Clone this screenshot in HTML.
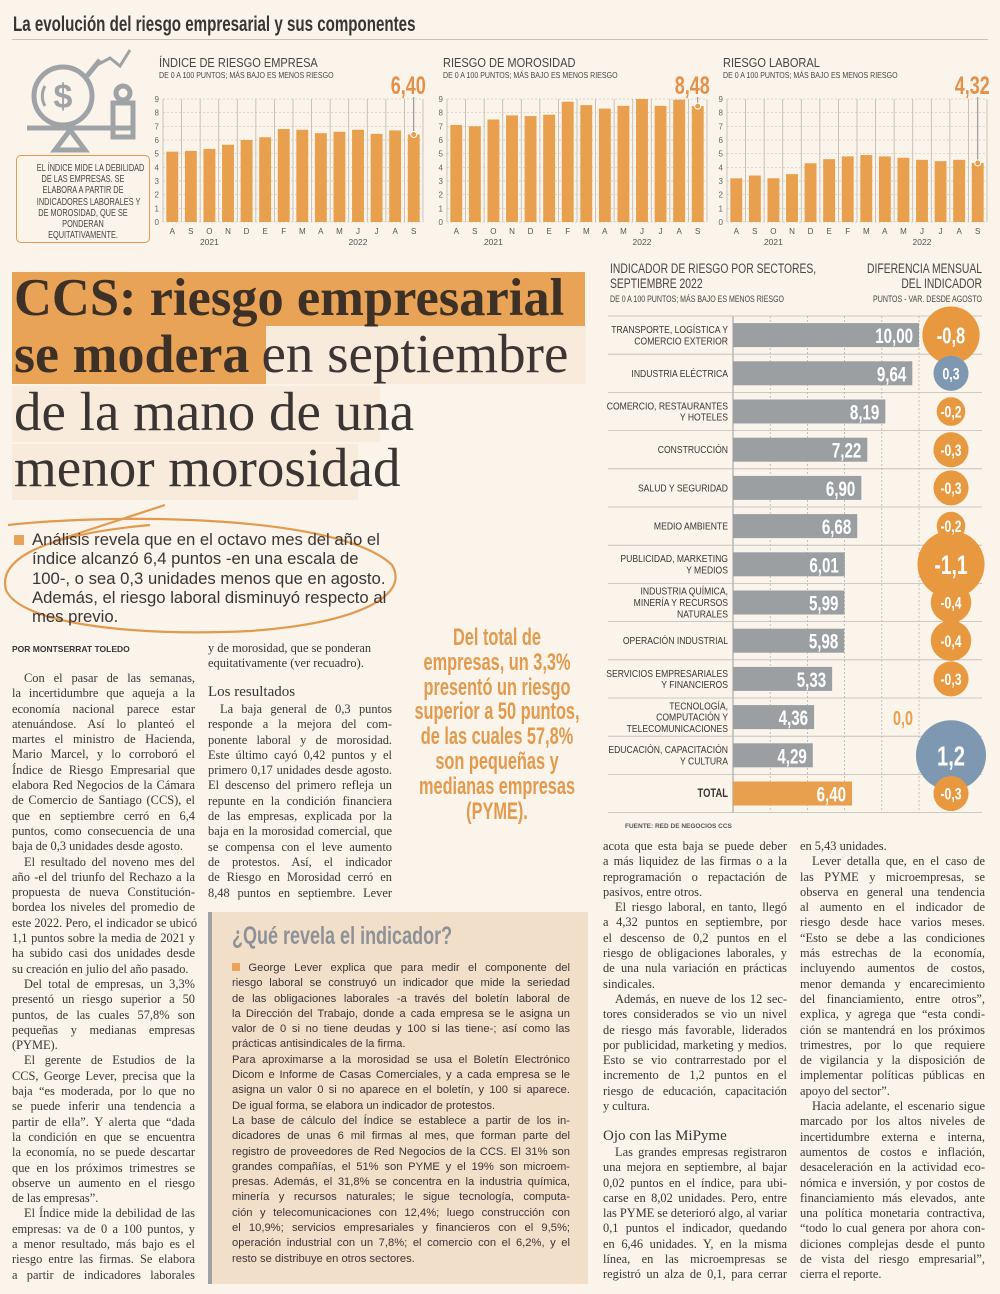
<!DOCTYPE html>
<html><head><meta charset="utf-8">
<style>
body{margin:0;background:#fbf4ea;}
#page{position:relative;width:1000px;height:1294px;overflow:hidden;background:#fbf4ea;font-family:"Liberation Serif",serif;color:#3a3433;}
.abs{position:absolute;}
.col{position:absolute;font-family:"Liberation Serif",serif;font-size:12.4px;line-height:15.3px;color:#3b3535;}
.col div{white-space:nowrap;height:15.3px;}
.l{text-align:justify;text-align-last:justify;}
.i{padding-left:12px;}
.box{position:absolute;font-family:"Liberation Sans",sans-serif;font-size:11.2px;line-height:15.3px;color:#3b3535;}
.box div{white-space:nowrap;height:15.3px;}
.hl{font-family:"Liberation Serif",serif;font-size:55px;line-height:56px;position:absolute;left:14px;white-space:nowrap;}
.pq div{white-space:nowrap;height:24.8px;transform:scaleX(0.68);transform-origin:center;}
.nb div{white-space:nowrap;transform:scaleX(0.7);transform-origin:center;}
</style></head><body>
<div id="page">

<div class="abs" style="left:13px;top:13px;font-family:'Liberation Sans',sans-serif;font-size:21px;font-weight:bold;color:#3a3433;transform:scaleX(0.72);transform-origin:left;white-space:nowrap;">La evolución del riesgo empresarial y sus componentes</div>
<div class="abs" style="left:12px;top:39px;width:976px;height:1px;background:#c9c0b5;"></div>

<svg class="abs" style="left:25px;top:48px" width="120" height="110" viewBox="0 0 120 110">
<g fill="none" stroke="#a0a3a6" stroke-width="5">
<circle cx="38" cy="48" r="29"/>
<path d="M20 38 A20 20 0 0 0 20 58" stroke-width="3"/>
<line x1="62" y1="28" x2="75" y2="12"/>
<polyline points="70,18 85,10 95,18 105,2" stroke-width="3"/>
<circle cx="98" cy="45" r="7"/>
<rect x="88" y="55" width="20" height="34"/>
<line x1="2" y1="80" x2="110" y2="80"/>
<polygon points="45,82 60,102 30,102"/>
</g>
<text x="38" y="60" font-family="Liberation Sans" font-size="34" font-weight="bold" fill="#a0a3a6" text-anchor="middle">$</text>
</svg>
<div class="abs nb" style="left:16px;top:155px;width:134px;height:88px;border:1.5px solid #e29a52;border-radius:5px;font-family:'Liberation Sans',sans-serif;font-size:10.5px;line-height:11.2px;text-align:center;color:#4a4444;padding-top:7px;box-sizing:border-box;">
<div>EL ÍNDICE MIDE LA DEBILIDAD</div><div>DE LAS EMPRESAS. SE</div><div>ELABORA A PARTIR DE</div><div>INDICADORES LABORALES Y</div><div>DE MOROSIDAD, QUE SE</div><div>PONDERAN</div><div>EQUITATIVAMENTE.</div></div>

<svg id="topcharts" class="abs" style="left:0;top:0" width="1000" height="255"></svg>

<!-- Headline -->
<div class="abs" style="left:12px;top:272px;width:573px;height:54px;background:#e8a357;"></div>
<div class="abs" style="left:12px;top:326px;width:254px;height:58px;background:#e8a357;"></div>
<div class="abs" style="left:266px;top:326px;width:320px;height:58px;background:#f8ebdc;"></div>
<div class="abs" style="left:12px;top:386px;width:368px;height:56px;background:#f8ebdc;"></div>
<div class="abs" style="left:12px;top:444px;width:346px;height:56px;background:#f8ebdc;"></div>
<div class="hl" style="top:270px;font-weight:bold;color:#3d3026;font-size:52.5px;">CCS: riesgo empresarial</div>
<div class="hl" style="top:326px;color:#3d3433;"><b style="color:#3d3026;font-size:54px;">se modera</b><span style="padding-left:12px">en septiembre</span></div>
<div class="hl" style="top:384px;">de la mano de una</div>
<div class="hl" style="top:440px;">menor morosidad</div>

<!-- Lead -->
<svg class="abs" style="left:0;top:495px" width="420" height="145">
<path d="M8 30 C120 18 340 20 392 70 C410 100 360 128 250 136 C130 142 20 128 6 95 C-2 65 40 40 150 30" fill="none" stroke="#e29a4e" stroke-width="2.2"/>
<line x1="58" y1="45" x2="165" y2="10" stroke="#e29a4e" stroke-width="2.2"/>
</svg>
<div class="abs" style="left:14px;top:530px;font-family:'Liberation Sans',sans-serif;font-size:16.7px;line-height:19.3px;color:#3b3535;white-space:nowrap;">
<span style="display:inline-block;width:10px;height:10px;background:#e8a357;margin-right:8px;"></span>Análisis revela que en el octavo mes del año el<br><span style="padding-left:18px"></span>índice alcanzó 6,4 puntos -en una escala de<br><span style="padding-left:18px"></span>100-, o sea 0,3 unidades menos que en agosto.<br><span style="padding-left:18px"></span>Además, el riesgo laboral disminuyó respecto al<br><span style="padding-left:18px"></span>mes previo.</div>

<div class="abs" style="left:12px;top:644px;font-family:'Liberation Sans',sans-serif;font-size:8.5px;font-weight:bold;color:#3b3535;">POR MONTSERRAT TOLEDO</div>

<div class="col" style="left:12px;top:671px;width:183px;">
<div class="l i">Con el pasar de las semanas,</div>
<div class="l">la incertidumbre que aqueja a la</div>
<div class="l">economía nacional parece estar</div>
<div class="l">atenuándose. Así lo planteó el</div>
<div class="l">martes el ministro de Hacienda,</div>
<div class="l">Mario Marcel, y lo corroboró el</div>
<div class="l">Índice de Riesgo Empresarial que</div>
<div class="l">elabora Red Negocios de la Cámara</div>
<div class="l">de Comercio de Santiago (CCS), el</div>
<div class="l">que en septiembre cerró en 6,4</div>
<div class="l">puntos, como consecuencia de una</div>
<div>baja de 0,3 unidades desde agosto.</div>
<div class="l i">El resultado del noveno mes del</div>
<div class="l">año -el del triunfo del Rechazo a la</div>
<div class="l">propuesta de nueva Constitución-</div>
<div class="l">bordea los niveles del promedio de</div>
<div class="l">este 2022. Pero, el indicador se ubicó</div>
<div class="l">1,1 puntos sobre la media de 2021 y</div>
<div class="l">ha subido casi dos unidades desde</div>
<div>su creación en julio del año pasado.</div>
<div class="l i">Del total de empresas, un 3,3%</div>
<div class="l">presentó un riesgo superior a 50</div>
<div class="l">puntos, de las cuales 57,8% son</div>
<div class="l">pequeñas y medianas empresas</div>
<div>(PYME).</div>
<div class="l i">El gerente de Estudios de la</div>
<div class="l">CCS, George Lever, precisa que la</div>
<div class="l">baja “es moderada, por lo que no</div>
<div class="l">se puede inferir una tendencia a</div>
<div class="l">partir de ella”. Y alerta que “dada</div>
<div class="l">la condición en que se encuentra</div>
<div class="l">la economía, no se puede descartar</div>
<div class="l">que en los próximos trimestres se</div>
<div class="l">observe un aumento en el riesgo</div>
<div>de las empresas”.</div>
<div class="l i">El Índice mide la debilidad de las</div>
<div class="l">empresas: va de 0 a 100 puntos, y</div>
<div class="l">a menor resultado, más bajo es el</div>
<div class="l">riesgo entre las firmas. Se elabora</div>
<div class="l">a partir de indicadores laborales</div>
</div>

<div class="col" style="left:208px;top:641px;width:184px;">
<div>y de morosidad, que se ponderan</div>
<div>equitativamente (ver recuadro).</div>
</div>
<div class="abs" style="left:208px;top:684px;font-size:15px;color:#3b3535;">Los resultados</div>
<div class="col" style="left:208px;top:702px;width:184px;">
<div class="l i">La baja general de 0,3 puntos</div>
<div class="l">responde a la mejora del com-</div>
<div class="l">ponente laboral y de morosidad.</div>
<div class="l">Este último cayó 0,42 puntos y el</div>
<div class="l">primero 0,17 unidades desde agosto.</div>
<div class="l">El descenso del primero refleja un</div>
<div class="l">repunte en la condición financiera</div>
<div class="l">de las empresas, explicada por la</div>
<div class="l">baja en la morosidad comercial, que</div>
<div class="l">se compensa con el leve aumento</div>
<div class="l">de protestos. Así, el indicador</div>
<div class="l">de Riesgo en Morosidad cerró en</div>
<div class="l">8,48 puntos en septiembre. Lever</div>
</div>

<div class="abs pq" style="left:347px;top:626px;width:300px;text-align:center;font-family:'Liberation Sans',sans-serif;font-size:24px;line-height:24.8px;font-weight:bold;color:#e29a4e;">
<div>Del total de</div><div>empresas, un 3,3%</div><div>presentó un riesgo</div><div>superior a 50 puntos,</div><div>de las cuales 57,8%</div><div>son pequeñas y</div><div>medianas empresas</div><div>(PYME).</div></div>

<!-- Box -->
<div class="abs" style="left:208px;top:912px;width:380px;height:372px;background:#f2dfca;border-left:4px solid #9ea2a6;box-sizing:border-box;"></div>
<div class="abs" style="left:232px;top:922px;font-family:'Liberation Sans',sans-serif;font-size:25px;font-weight:bold;color:#8e9296;transform:scaleX(0.72);transform-origin:left;white-space:nowrap;">¿Qué revela el indicador?</div>
<div class="box" style="left:232px;top:961px;width:338px;">
<div class="l"><span style="display:inline-block;width:8px;height:8px;background:#e8a357;"></span> George Lever explica que para medir el componente del</div>
<div class="l">riesgo laboral se construyó un indicador que mide la seriedad</div>
<div class="l">de las obligaciones laborales -a través del boletín laboral de</div>
<div class="l">la Dirección del Trabajo, donde a cada empresa se le asigna un</div>
<div class="l">valor de 0 si no tiene deudas y 100 si las tiene-; así como las</div>
<div>prácticas antisindicales de la firma.</div>
<div class="l">Para aproximarse a la morosidad se usa el Boletín Electrónico</div>
<div class="l">Dicom e Informe de Casas Comerciales, y a cada empresa se le</div>
<div class="l">asigna un valor 0 si no aparece en el boletín, y 100 si aparece.</div>
<div>De igual forma, se elabora un indicador de protestos.</div>
<div class="l">La base de cálculo del Índice se establece a partir de los in-</div>
<div class="l">dicadores de unas 6 mil firmas al mes, que forman parte del</div>
<div class="l">registro de proveedores de Red Negocios de la CCS. El 31% son</div>
<div class="l">grandes compañías, el 51% son PYME y el 19% son microem-</div>
<div class="l">presas. Además, el 31,8% se concentra en la industria química,</div>
<div class="l">minería y recursos naturales; le sigue tecnología, computa-</div>
<div class="l">ción y telecomunicaciones con 12,4%; luego construcción con</div>
<div class="l">el 10,9%; servicios empresariales y financieros con el 9,5%;</div>
<div class="l">operación industrial con un 7,8%; el comercio con el 6,2%, y el</div>
<div>resto se distribuye en otros sectores.</div>
</div>

<!-- Sector chart -->
<svg id="sector" class="abs" style="left:0;top:0" width="1000" height="840"></svg>

<div class="col" style="left:603px;top:839px;width:184px;">
<div class="l">acota que esta baja se puede deber</div>
<div class="l">a más liquidez de las firmas o a la</div>
<div class="l">reprogramación o repactación de</div>
<div>pasivos, entre otros.</div>
<div class="l i">El riesgo laboral, en tanto, llegó</div>
<div class="l">a 4,32 puntos en septiembre, por</div>
<div class="l">el descenso de 0,2 puntos en el</div>
<div class="l">riesgo de obligaciones laborales, y</div>
<div class="l">de una nula variación en prácticas</div>
<div>sindicales.</div>
<div class="l i">Además, en nueve de los 12 sec-</div>
<div class="l">tores considerados se vio un nivel</div>
<div class="l">de riesgo más favorable, liderados</div>
<div class="l">por publicidad, marketing y medios.</div>
<div class="l">Esto se vio contrarrestado por el</div>
<div class="l">incremento de 1,2 puntos en el</div>
<div class="l">riesgo de educación, capacitación</div>
<div>y cultura.</div>
</div>
<div class="abs" style="left:603px;top:1128px;font-size:15px;color:#3b3535;">Ojo con las MiPyme</div>
<div class="col" style="left:603px;top:1145px;width:184px;">
<div class="l i">Las grandes empresas registraron</div>
<div class="l">una mejora en septiembre, al bajar</div>
<div class="l">0,02 puntos en el índice, para ubi-</div>
<div class="l">carse en 8,02 unidades. Pero, entre</div>
<div class="l">las PYME se deterioró algo, al variar</div>
<div class="l">0,1 puntos el indicador, quedando</div>
<div class="l">en 6,46 unidades. Y, en la misma</div>
<div class="l">línea, en las microempresas se</div>
<div class="l">registró un alza de 0,1, para cerrar</div>
</div>

<div class="col" style="left:800px;top:839px;width:185px;">
<div>en 5,43 unidades.</div>
<div class="l i">Lever detalla que, en el caso de</div>
<div class="l">las PYME y microempresas, se</div>
<div class="l">observa en general una tendencia</div>
<div class="l">al aumento en el indicador de</div>
<div class="l">riesgo desde hace varios meses.</div>
<div class="l">“Esto se debe a las condiciones</div>
<div class="l">más estrechas de la economía,</div>
<div class="l">incluyendo aumentos de costos,</div>
<div class="l">menor demanda y encarecimiento</div>
<div class="l">del financiamiento, entre otros”,</div>
<div class="l">explica, y agrega que “esta condi-</div>
<div class="l">ción se mantendrá en los próximos</div>
<div class="l">trimestres, por lo que requiere</div>
<div class="l">de vigilancia y la disposición de</div>
<div class="l">implementar políticas públicas en</div>
<div>apoyo del sector”.</div>
<div class="l i">Hacia adelante, el escenario sigue</div>
<div class="l">marcado por los altos niveles de</div>
<div class="l">incertidumbre externa e interna,</div>
<div class="l">aumentos de costos e inflación,</div>
<div class="l">desaceleración en la actividad eco-</div>
<div class="l">nómica e inversión, y por costos de</div>
<div class="l">financiamiento más elevados, ante</div>
<div class="l">una política monetaria contractiva,</div>
<div class="l">“todo lo cual genera por ahora con-</div>
<div class="l">diciones complejas desde el punto</div>
<div class="l">de vista del riesgo empresarial”,</div>
<div>cierra el reporte.</div>
</div>

</div>
<script>
const months = ["A","S","O","N","D","E","F","M","A","M","J","J","A","S"];
const yTicks = [0,1,2,3,4,5,6,7,8,9];
const empresaValues = [5.15,5.2,5.35,5.65,6.0,6.2,6.8,6.75,6.5,6.6,6.75,6.45,6.7,6.4];
const morosidadValues = [7.1,7.0,7.5,7.8,7.75,7.85,8.8,8.55,8.3,8.5,9.0,8.5,8.95,8.48];
const laboralValues = [3.2,3.4,3.2,3.5,4.3,4.6,4.8,4.9,4.8,4.7,4.55,4.45,4.55,4.32];
const chartTitles = ["ÍNDICE DE RIESGO EMPRESA","RIESGO DE MOROSIDAD","RIESGO LABORAL"];
const chartLabels = ["6,40","8,48","4,32"];

const sectorNames = [["TRANSPORTE, LOGÍSTICA Y","COMERCIO EXTERIOR"],["INDUSTRIA ELÉCTRICA"],["COMERCIO, RESTAURANTES","Y HOTELES"],["CONSTRUCCIÓN"],["SALUD Y SEGURIDAD"],["MEDIO AMBIENTE"],["PUBLICIDAD, MARKETING","Y MEDIOS"],["INDUSTRIA QUÍMICA,","MINERÍA Y RECURSOS","NATURALES"],["OPERACIÓN INDUSTRIAL"],["SERVICIOS EMPRESARIALES","Y FINANCIEROS"],["TECNOLOGÍA,","COMPUTACIÓN Y","TELECOMUNICACIONES"],["EDUCACIÓN, CAPACITACIÓN","Y CULTURA"],["TOTAL"]];
const sectorValues = [10.00,9.64,8.19,7.22,6.90,6.68,6.01,5.99,5.98,5.33,4.36,4.29,6.40];
const sectorDiffs = [-0.8,0.3,-0.2,-0.3,-0.3,-0.2,-1.1,-0.4,-0.4,-0.3,0.0,1.2,-0.3];

const NS="http://www.w3.org/2000/svg";
const F='Liberation Sans, sans-serif';
function mk(parent,tag,attrs,text){const e=document.createElementNS(NS,tag);for(const k in attrs)e.setAttribute(k,attrs[k]);if(text!==undefined)e.textContent=text;parent.appendChild(e);return e;}
function ct(parent,x,y,sx,attrs,text){const a=Object.assign({x:0,y:0,transform:'translate('+x+','+y+') scale('+sx+',1)','font-family':F},attrs);return mk(parent,'text',a,text);}
const fmt=v=>v.toFixed(2).replace('.',',');
const fmt1=v=>v.toFixed(1).replace('.',',');

// top charts
const topSvg=document.getElementById('topcharts');
const series=[empresaValues,morosidadValues,laboralValues];
const lefts=[163,447,727];
series.forEach((vals,ci)=>{
  const x0=lefts[ci], w=260, y0=222, y9=99;
  const ys=v=>y0-(v/9)*(y0-y9);
  const band=w/months.length;
  const xs=i=>x0+band*i;
  const g=mk(topSvg,'g',{});
  
  
  const t=ct(g,x0-4,67,0.85,{'font-size':13,fill:'#4a4444'},chartTitles[ci]);
  
  
  ct(g,x0-4,78,0.82,{'font-size':8.6,fill:'#4a4444'},'DE 0 A 100 PUNTOS; MÁS BAJO ES MENOS RIESGO');
  yTicks.forEach(tk=>{
    mk(g,'line',{x1:x0,x2:x0+w,y1:ys(tk),y2:ys(tk),stroke:'#cfc8c0','stroke-width':0.7,'stroke-dasharray':'2,2'});
    const lb=mk(g,'text',{x:x0-4,y:ys(tk)+3,'font-family':F,'font-size':8,fill:'#666','text-anchor':'end'},String(tk));
    
    
  });
  for(let i=0;i<=months.length;i++) mk(g,'line',{x1:xs(i),x2:xs(i),y1:y9,y2:y0,stroke:'#bdb6ae','stroke-width':0.8});
  vals.forEach((v,i)=>{
    const b=mk(g,'rect',{x:xs(i)+band*0.18,y:ys(v),width:band*0.64,height:y0-ys(v),fill:'#e8a04e'});
    
    
    const m=mk(g,'text',{x:xs(i)+band/2,y:234,'font-family':F,'font-size':8,fill:'#555','text-anchor':'middle'},months[i]);
    
    
  });
  mk(g,'text',{x:xs(2)+band/2,y:245,'font-family':F,'font-size':8.5,fill:'#555','text-anchor':'middle'},'2021');
  mk(g,'text',{x:xs(10)+band/2,y:245,'font-family':F,'font-size':8.5,fill:'#555','text-anchor':'middle'},'2022');
  const last=vals.length-1, cx=xs(last)+band/2;
  mk(g,'line',{x1:cx,x2:cx,y1:97,y2:ys(vals[last]),stroke:'#888','stroke-width':1});
  mk(g,'circle',{cx:cx,cy:ys(vals[last]),r:3,fill:'#e8a04e',stroke:'#fff','stroke-width':1});
  const vl=ct(g,cx+12,94,0.72,{'font-size':25,'font-weight':'bold',fill:'#e2904a','text-anchor':'end'},chartLabels[ci]);
  
  
});

// sector chart
const sc=document.getElementById('sector');
const ax0=733, pxPerUnit=18.6, rowTop=316, rowH=38.2;
const xb=v=>ax0+v*pxPerUnit;
const rowY=i=>rowTop+i*rowH;
ct(sc,610,273,0.74,{'font-size':14,fill:'#4a4444'},'INDICADOR DE RIESGO POR SECTORES,');
ct(sc,610,288,0.74,{'font-size':14,fill:'#4a4444'},'SEPTIEMBRE 2022');
ct(sc,610,302,0.8,{'font-size':8.8,fill:'#4a4444'},'DE 0 A 100 PUNTOS; MÁS BAJO ES MENOS RIESGO');
ct(sc,982,273,0.74,{'font-size':14,fill:'#4a4444','text-anchor':'end'},'DIFERENCIA MENSUAL');
ct(sc,982,288,0.74,{'font-size':14,fill:'#4a4444','text-anchor':'end'},'DEL INDICADOR');
ct(sc,982,302,0.8,{'font-size':8.8,fill:'#4a4444','text-anchor':'end'},'PUNTOS - VAR. DESDE AGOSTO');
const gridTicks=[0,2,4,6,8,10];
gridTicks.forEach(t=>mk(sc,'line',{x1:xb(t),x2:xb(t),y1:rowTop,y2:rowY(sectorValues.length),stroke:t===0?'#999':'#aaa','stroke-width':t===0?1:0.7,'stroke-dasharray':t===0?'':'2,2'}));
for(let i=0;i<=sectorValues.length;i++) mk(sc,'line',{x1:608,x2:982,y1:rowY(i),y2:rowY(i),stroke:'#bbb','stroke-width':0.8});
sectorValues.forEach((v,i)=>{
  const y=rowY(i), mid=y+rowH/2, isTotal=i===sectorValues.length-1;
  const names=sectorNames[i];
  names.forEach((n,k)=>{
    const t=ct(sc,728,mid+3.5+(k-(names.length-1)/2)*11.3,0.82,{'font-size':isTotal?11.5:10.5,'font-weight':isTotal?'bold':'normal',fill:'#3b3535','text-anchor':'end'},n);
    
    
  });
  const b=mk(sc,'rect',{x:ax0,y:mid-12,width:xb(v)-ax0,height:24,fill:isTotal?'#e8a04e':'#9b9fa2'});
  
  
  const vt=ct(sc,xb(v)-6,mid+8,0.72,{'font-size':21,'font-weight':'bold',fill:'#fff','text-anchor':'end'},fmt(v));
  
  
});
sectorDiffs.forEach((d,i)=>{
  const mid=rowY(i)+rowH/2;
  if(d===0){
    const t=ct(sc,903,mid+8,0.72,{'font-size':20,'font-weight':'bold',fill:'#e8a04e','text-anchor':'middle'},fmt1(d));
    
    
    return;
  }
  const r=Math.sqrt(Math.abs(d))*32;
  const c=mk(sc,'circle',{cx:951,cy:mid,r:r,fill:d>0?'#7f98b1':'#e8993f'});
  
  
});
sectorDiffs.forEach((d,i)=>{
  if(d===0) return;
  const mid=rowY(i)+rowH/2;
  const r=Math.sqrt(Math.abs(d))*32;
  const fs=Math.max(17,Math.min(28,r*0.8));
  const t=ct(sc,951,mid+fs*0.36,0.72,{'font-size':fs,'font-weight':'bold',fill:'#fff','text-anchor':'middle'},fmt1(d));
  
  
});
mk(sc,'text',{x:625,y:828,'font-family':F,'font-size':6.5,'font-weight':'bold',fill:'#555'},'FUENTE: RED DE NEGOCIOS CCS');
</script>
</body></html>
